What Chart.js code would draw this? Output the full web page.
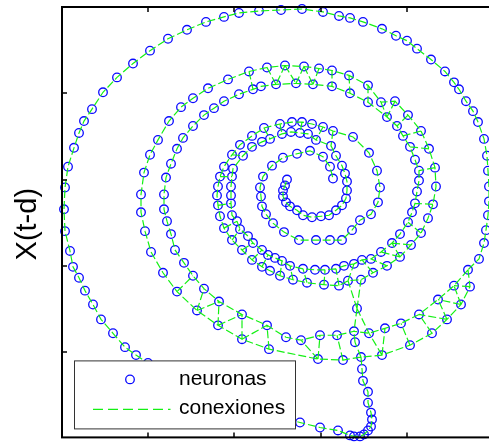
<!DOCTYPE html>
<html>
<head>
<meta charset="utf-8">
<script src="https://cdn.jsdelivr.net/npm/chart.js@4.4.0/dist/chart.umd.min.js"></script>
<style>
  html, body { margin: 0; padding: 0; background: #fff; overflow: hidden; }
  #wrap { width: 500px; height: 443px; position: relative; }
</style>
</head>
<body>
<div id="wrap"><canvas id="myChart"></canvas></div>
<script>
// outer turn: from the junction down the stem, round the left, top and right
var outerRing = [
    [299, 81], [300, 69], [301, 57], [306, 46], [306, 35], [309, 25], [310, 18], [309, 11],
    [306, 7], [302, 3], [298, 1], [292, 1], [288, 2], [276, 7], [258, 10], [238, 15],
    [216, 21], [193, 28], [170, 36], [146, 45], [123, 55], [101, 67], [86, 75], [74, 83],
    [63, 91], [51, 105], [39, 119], [31, 134], [23, 148], [17, 161], [11, 172], [8, 188],
    [3, 208], [2, 230], [3, 252], [6, 273], [12, 292], [17, 307], [22, 319], [30, 331],
    [41, 348], [55, 363], [71, 377], [88, 390], [106, 402], [125, 411], [144, 419], [162, 424],
    [177, 428], [197, 430], [219, 431], [240, 432], [261, 429], [277, 425], [288, 423], [301, 419],
    [320, 412], [334, 405], [345, 400], [355, 392], [369, 381], [383, 369], [392, 358], [397, 351],
    [404, 339], [411, 329], [416, 318], [422, 301], [425, 284], [426, 269], [427, 253], [427, 238],
    [426, 224], [424, 209], [422, 196], [417, 180], [406, 169]
];

// outer strand of the double band, spiralling inwards
var bandA = [
    [406, 169], [408, 152], [399, 134], [385, 119], [370, 105], [348, 93], [320, 83], [299, 81],
    [281, 78], [256, 79], [207, 89], [180, 99], [156, 113], [135, 128], [115, 147], [101, 166],
    [89, 187], [83, 208], [79, 227], [79, 245], [82, 267], [88, 285], [96, 300], [107, 319],
    [119, 333], [131, 342], [146, 352], [166, 361], [187, 369], [205, 373], [223, 375], [242, 374],
    [257, 372], [270, 370], [287, 365], [306, 355], [319, 338], [333, 339], [346, 325], [359, 309],
    [367, 291], [373, 272], [374, 253], [371, 235], [366, 221], [359, 206], [349, 194], [338, 182],
    [325, 173], [311, 166], [299, 159], [286, 158], [277, 153], [262, 154], [245, 156], [231, 159],
    [218, 163], [208, 168], [200, 172], [190, 179], [180, 189], [170, 199], [162, 211], [158, 223],
    [156, 234], [155, 244], [156, 253], [158, 263], [162, 273], [170, 285], [178, 295], [190, 304],
    [202, 312], [218, 316], [230, 318], [240, 318], [250, 316], [261, 313], [271, 309], [291, 303],
    [307, 287], [315, 269], [318, 252], [316, 237], [309, 225], [298, 219], [290, 209], [280, 199],
    [268, 199], [254, 199], [237, 199], [222, 207], [211, 216], [204, 225], [200, 233], [199, 243],
    [198, 252], [201, 263], [210, 274], [221, 282], [235, 286], [248, 289], [261, 283], [268, 273],
    [271, 261]
];

// inner strand of the double band, ending in the central hook
var bandB = [
    [406, 169], [392, 153], [376, 139], [357, 124], [339, 115], [323, 110], [307, 105], [292, 107],
    [275, 103], [258, 103], [239, 98], [224, 101], [205, 113], [180, 124], [157, 137], [142, 150],
    [131, 163], [122, 176], [113, 189], [109, 205], [105, 218], [102, 230], [102, 245], [104, 262],
    [109, 276], [115, 291], [121, 302], [131, 314], [142, 325], [152, 332], [162, 339], [177, 346],
    [191, 351], [199, 354], [214, 356], [234, 357], [251, 356], [270, 354], [288, 347], [306, 338],
    [325, 323], [335, 314], [341, 304], [348, 293], [353, 280], [357, 269], [357, 259], [355, 248],
    [353, 236], [350, 227], [346, 217], [338, 205], [330, 196], [319, 187], [309, 180], [300, 179],
    [292, 175], [282, 173], [274, 170], [263, 169], [253, 169], [241, 170], [228, 173], [220, 178],
    [213, 181], [206, 184], [200, 189], [191, 196], [186, 203], [178, 210], [175, 218], [170, 224],
    [169, 236], [169, 244], [169, 253], [170, 263], [171, 271], [181, 284], [190, 293], [200, 298],
    [208, 301], [220, 306], [229, 308], [238, 307], [246, 306], [254, 300], [269, 294], [274, 284],
    [280, 274], [283, 266], [285, 258], [285, 249], [284, 241], [280, 234], [274, 229], [267, 224],
    [259, 223], [250, 222], [241, 224], [235, 229], [228, 233], [224, 237], [221, 243], [221, 249],
    [223, 254], [225, 260]
];

// cross connections between the two strands
var rungs = [
    [[408, 152], [392, 153]], [[399, 134], [392, 153]], [[399, 134], [376, 139]], [[385, 119], [376, 139]],
    [[370, 105], [357, 124]], [[385, 119], [357, 124]], [[348, 93], [339, 115]], [[320, 83], [323, 110]],
    [[320, 83], [307, 105]], [[299, 81], [293, 96]], [[293, 96], [292, 107]], [[281, 78], [275, 103]],
    [[256, 79], [258, 103]], [[256, 79], [239, 98]], [[207, 89], [205, 113]], [[180, 99], [205, 113]],
    [[180, 99], [180, 124]], [[156, 113], [180, 124]], [[156, 113], [157, 137]], [[135, 128], [157, 137]],
    [[135, 128], [142, 150]], [[115, 147], [131, 163]],
    [[295, 130], [292, 107]], [[295, 130], [307, 105]], [[295, 130], [286, 158]], [[295, 130], [299, 159]],
    [[187, 369], [191, 351]], [[205, 373], [214, 356]], [[223, 375], [214, 356]], [[223, 375], [234, 357]],
    [[242, 374], [234, 357]], [[242, 374], [251, 356]], [[257, 372], [251, 356]], [[270, 370], [270, 354]],
    [[287, 365], [288, 347]], [[306, 355], [306, 338]], [[319, 338], [325, 323]], [[333, 339], [325, 323]],
    [[346, 325], [335, 314]], [[359, 309], [341, 304]], [[367, 291], [348, 293]],
    [[373, 272], [357, 269]], [[371, 235], [353, 236]], [[359, 206], [346, 217]], [[349, 194], [330, 196]],
    [[338, 182], [330, 196]], [[338, 182], [319, 187]], [[325, 173], [309, 180]], [[311, 166], [300, 179]],
    [[286, 158], [292, 175]], [[277, 153], [274, 170]], [[262, 154], [263, 169]], [[245, 156], [241, 170]],
    [[231, 159], [228, 173]], [[218, 163], [220, 178]], [[200, 172], [206, 184]], [[190, 179], [200, 189]],
    [[180, 189], [191, 196]], [[170, 199], [178, 210]], [[162, 211], [175, 218]], [[156, 234], [169, 236]],
    [[158, 263], [170, 263]], [[170, 285], [181, 284]],
    [[202, 312], [208, 301]], [[218, 316], [220, 306]], [[240, 318], [238, 307]], [[261, 313], [254, 300]],
    [[271, 309], [269, 294]]
];

var xTickValues = [86, 172, 259, 345];
var yTickValues = [86, 173, 260, 347];
var seriesNames = ['neuronas', 'conexiones'];
var yTitle = 'X(t-d)';

var FONT = '"Liberation Sans", Arial, Helvetica, sans-serif';
var BLUE = 'rgb(10, 10, 255)';
var GREEN = 'rgb(20, 240, 20)';

function buildNeurons() {
    var seen = {};
    var pts = [];
    function add(p) {
        var k = p[0] + ',' + p[1];
        if (!seen[k]) {
            seen[k] = true;
            pts.push({x: p[0], y: p[1]});
        }
    }
    [outerRing, bandA, bandB].forEach(function (c) { c.forEach(add); });
    rungs.forEach(function (r) { add(r[0]); add(r[1]); });
    return pts;
}

// every chain and rung in one path, broken by null points
function buildConnections() {
    var pts = [];
    [outerRing, bandA, bandB].concat(rungs).forEach(function (c) {
        c.forEach(function (p) { pts.push({x: p[0], y: p[1]}); });
        pts.push({x: null, y: null});
    });
    return pts;
}

var framePlugin = {
    id: 'frame',
    afterDraw: function (chart) {
        var ctx = chart.ctx;
        var a = chart.chartArea;
        var xs = chart.scales.x;
        var ys = chart.scales.y;
        ctx.save();

        // box and inward ticks
        ctx.strokeStyle = '#000';
        ctx.lineWidth = 2;
        ctx.strokeRect(a.left, a.top, a.right - a.left, a.bottom - a.top);
        ctx.lineWidth = 1.5;
        ctx.beginPath();
        xTickValues.forEach(function (v) {
            var px = Math.round(xs.getPixelForValue(v));
            ctx.moveTo(px, a.bottom); ctx.lineTo(px, a.bottom - 5);
            ctx.moveTo(px, a.top); ctx.lineTo(px, a.top + 5);
        });
        yTickValues.forEach(function (v) {
            var py = Math.round(ys.getPixelForValue(v));
            ctx.moveTo(a.left, py); ctx.lineTo(a.left + 5, py);
            ctx.moveTo(a.right, py); ctx.lineTo(a.right - 5, py);
        });
        ctx.stroke();

        // y axis title
        ctx.save();
        ctx.fillStyle = '#000';
        ctx.font = '29px ' + FONT;
        ctx.translate(36, (a.top + a.bottom) / 2 + 2);
        ctx.rotate(-Math.PI / 2);
        ctx.textAlign = 'center';
        ctx.textBaseline = 'alphabetic';
        ctx.fillText(yTitle, 0, 0);
        ctx.restore();

        // legend box
        var lx = a.left + 12.5, ly = a.bottom - 76.5, lw = 221, lh = 68;
        ctx.fillStyle = '#fff';
        ctx.fillRect(lx, ly, lw, lh);
        ctx.strokeStyle = '#333';
        ctx.lineWidth = 1;
        ctx.strokeRect(lx, ly, lw, lh);

        ctx.strokeStyle = BLUE;
        ctx.lineWidth = 1.3;
        ctx.beginPath();
        ctx.arc(lx + 55.5, ly + 18.5, 4.3, 0, Math.PI * 2);
        ctx.stroke();

        ctx.strokeStyle = GREEN;
        ctx.lineWidth = 1.2;
        ctx.setLineDash([10, 5]);
        ctx.beginPath();
        ctx.moveTo(lx + 18.5, ly + 48.5);
        ctx.lineTo(lx + 96, ly + 48.5);
        ctx.stroke();
        ctx.setLineDash([]);

        ctx.fillStyle = '#000';
        ctx.font = '21px ' + FONT;
        ctx.textAlign = 'left';
        ctx.textBaseline = 'alphabetic';
        ctx.fillText(seriesNames[0], lx + 104.5, ly + 24.5);
        ctx.fillText(seriesNames[1], lx + 104.5, ly + 53.5);

        ctx.restore();
    }
};

function initGraph() {
    var config = {
        type: 'scatter',
        data: {
            datasets: [{
                label: seriesNames[1],
                data: buildConnections(),
                showLine: true,
                spanGaps: false,
                borderColor: GREEN,
                borderWidth: 1.2,
                borderDash: [8, 3],
                pointRadius: 0,
                clip: false,
                order: 0
            }, {
                label: seriesNames[0],
                data: buildNeurons(),
                showLine: false,
                pointRadius: 4.3,
                pointBorderColor: BLUE,
                pointBackgroundColor: 'rgba(0,0,0,0)',
                pointBorderWidth: 1.3,
                clip: false,
                order: 1
            }]
        },
        options: {
            responsive: true,
            maintainAspectRatio: false,
            animation: false,
            events: [],
            layout: { padding: { left: 62, top: 7, right: 6, bottom: 2 } },
            scales: {
                x: { type: 'linear', min: 0, max: 432, display: false },
                y: { type: 'linear', min: 0, max: 434, display: false }
            },
            plugins: {
                legend: { display: false },
                tooltip: { enabled: false }
            }
        },
        plugins: [framePlugin]
    };
    new Chart(document.getElementById('myChart'), config);
}

initGraph();
</script>
</body>
</html>
